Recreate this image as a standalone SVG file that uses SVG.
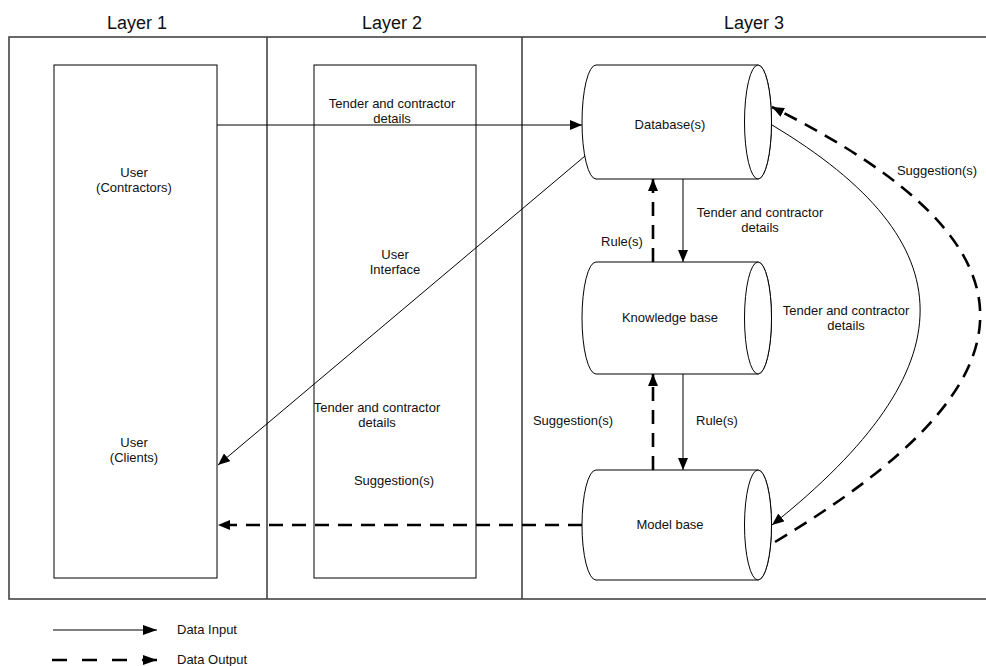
<svg xmlns="http://www.w3.org/2000/svg" width="986" height="666" viewBox="0 0 986 666">
<defs>
<marker id="ah" viewBox="0 0 12 10" refX="12" refY="5" markerWidth="12" markerHeight="10" markerUnits="userSpaceOnUse" orient="auto">
<path d="M0,0 L12,5 L0,10 z" fill="#000"/>
</marker>
<marker id="ahL" viewBox="0 0 14 10" refX="14" refY="5" markerWidth="14" markerHeight="10" markerUnits="userSpaceOnUse" orient="auto">
<path d="M0,0 L14,5 L0,10 z" fill="#000"/>
</marker>
</defs>
<style>
text{font-family:"Liberation Sans",Arial,sans-serif;font-size:13px;fill:#111;text-anchor:middle}
.layer{font-size:18px}
.leg{text-anchor:start}
.frame{fill:none;stroke:#444;stroke-width:1.6}
.box{fill:#fff;stroke:#000;stroke-width:1}
.cyl{fill:#fff;stroke:#000;stroke-width:1}
.in{fill:none;stroke:#000;stroke-width:1;marker-end:url(#ah)}
.out{fill:none;stroke:#000;stroke-width:2.6;stroke-dasharray:14 9;marker-end:url(#ah)}
</style>
<rect width="986" height="666" fill="#fff"/>

<g id="layers">
<rect class="frame" x="9" y="37" width="985" height="562"/>
<line class="frame" x1="267" y1="37" x2="267" y2="599"/>
<line class="frame" x1="522" y1="37" x2="522" y2="599"/>
<text class="layer" x="137" y="29">Layer 1</text>
<text class="layer" x="392" y="29">Layer 2</text>
<text class="layer" x="754" y="29">Layer 3</text>
</g>

<g id="layer1-user">
<rect class="box" x="54" y="65" width="163" height="513"/>
<text x="134" y="177">User</text>
<text x="134" y="192">(Contractors)</text>
<text x="134" y="447">User</text>
<text x="134" y="462">(Clients)</text>
</g>

<g id="layer2-ui">
<rect class="box" x="314" y="65" width="162" height="513"/>
<text x="395" y="259">User</text>
<text x="395" y="274">Interface</text>
</g>

<g id="database">
<path class="cyl" d="M596,65 L758,65 A13.5,57 0 0 1 758,179 L596,179 A14,57 0 0 1 596,65 z"/>
<ellipse class="cyl" cx="758" cy="122" rx="13.5" ry="57"/>
<text x="670" y="129">Database(s)</text>
</g>

<g id="knowledge-base">
<path class="cyl" d="M596,262 L758,262 A13.5,56 0 0 1 758,374 L596,374 A14,56 0 0 1 596,262 z"/>
<ellipse class="cyl" cx="758" cy="318" rx="13.5" ry="56"/>
<text x="670" y="322">Knowledge base</text>
</g>

<g id="model-base">
<path class="cyl" d="M596,470 L758,470 A13.5,55 0 0 1 758,580 L596,580 A14,55 0 0 1 596,470 z"/>
<ellipse class="cyl" cx="758" cy="525" rx="13.5" ry="55"/>
<text x="670" y="529">Model base</text>
</g>

<g id="connectors">
<line class="in" x1="217" y1="125" x2="582" y2="125"/>
<line class="in" x1="585" y1="156" x2="218" y2="465"/>
<line class="out" x1="582" y1="525" x2="218" y2="525"/>
<line class="in" x1="683" y1="179" x2="683" y2="262"/>
<line class="out" x1="653" y1="262" x2="653" y2="179"/>
<line class="in" x1="683" y1="374" x2="683" y2="470"/>
<line class="out" x1="653" y1="470" x2="653" y2="374"/>
<path class="in" d="M772,125 C969,243 970,367 772,525"/>
<path class="out" d="M775,542 C1036,385 1062,252 772,107"/>
<text x="392" y="108">Tender and contractor</text>
<text x="392" y="123">details</text>
<text x="377" y="412">Tender and contractor</text>
<text x="377" y="427">details</text>
<text x="394" y="485">Suggestion(s)</text>
<text x="622" y="246">Rule(s)</text>
<text x="760" y="217">Tender and contractor</text>
<text x="760" y="232">details</text>
<text x="846" y="315">Tender and contractor</text>
<text x="846" y="330">details</text>
<text x="937" y="175">Suggestion(s)</text>
<text x="573" y="425">Suggestion(s)</text>
<text x="717" y="425">Rule(s)</text>
</g>

<g id="legend">
<line x1="53" y1="630" x2="157" y2="630" stroke="#000" stroke-width="1" marker-end="url(#ahL)"/>
<line x1="52" y1="660" x2="157" y2="660" stroke="#000" stroke-width="2.6" stroke-dasharray="15 15" marker-end="url(#ahL)"/>
<text class="leg" x="177" y="634">Data Input</text>
<text class="leg" x="177" y="664">Data Output</text>
</g>
</svg>
